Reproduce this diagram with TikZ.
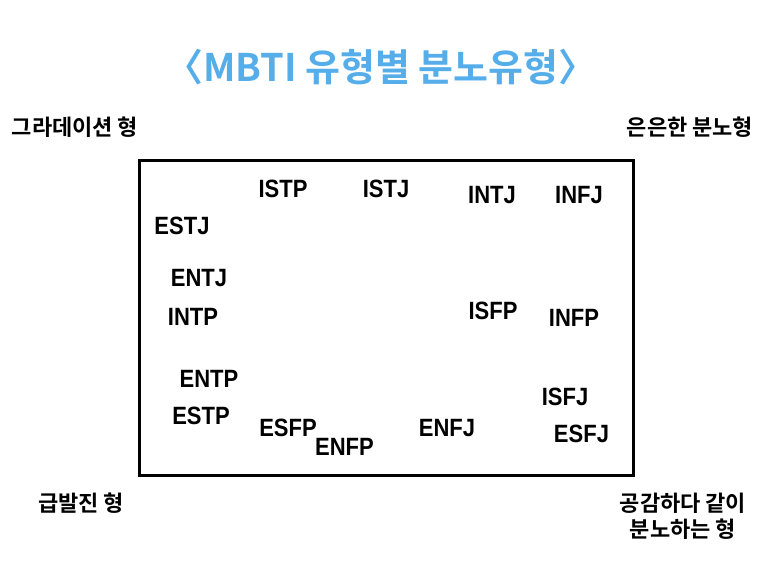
\documentclass[tikz,border=0pt]{standalone}
\usepackage{fontspec}
\newfontfamily\krfont{Noto Sans CJK KR}[BoldFont={* Bold}]
\newfontfamily\mbfont{Liberation Sans}[FakeStretch=0.88]
\definecolor{titleblue}{HTML}{55AEEA}
\begin{document}
\begin{tikzpicture}[x=1pt,y=-1pt,
  mbti/.style={font=\mbfont\bfseries\fontsize{25}{25}\selectfont, inner sep=0pt, anchor=center},
  corner/.style={font=\krfont\bfseries\fontsize{22}{26}\selectfont, inner sep=0pt, anchor=center, align=center},
  frame/.style={draw=black, line width=3pt}]
\useasboundingbox (0,0) rectangle (773,580);
\node[font=\krfont\bfseries\fontsize{38}{38}\selectfont, text=titleblue, inner sep=0pt] (title) at (381,67) {〈MBTI 유형별 분노유형〉};
\node[corner] (grad) at (75,127) {그라데이션 형};
\node[corner] (eun) at (690,127) {은은한 분노형};
\node[corner] (geup) at (81,503) {급발진 형};
\node[corner] (gong) at (683,516) {공감하다 같이\\분노하는 형};
\draw[frame] (139.5,161) rectangle (633,475);
\node[mbti] (istp) at (283,189) {ISTP};
\node[mbti] (istj) at (386,189) {ISTJ};
\node[mbti] (intj) at (492,195) {INTJ};
\node[mbti] (infj) at (579,195) {INFJ};
\node[mbti] (estj) at (182,226) {ESTJ};
\node[mbti] (entj) at (199,278) {ENTJ};
\node[mbti] (intp) at (193,317) {INTP};
\node[mbti] (isfp) at (493,311) {ISFP};
\node[mbti] (infp) at (574,318) {INFP};
\node[mbti] (entp) at (209,379) {ENTP};
\node[mbti] (estp) at (201,416) {ESTP};
\node[mbti] (esfp) at (288,428) {ESFP};
\node[mbti] (enfp) at (344.5,447) {ENFP};
\node[mbti] (enfj) at (447,428) {ENFJ};
\node[mbti] (isfj) at (565,397) {ISFJ};
\node[mbti] (esfj) at (581.5,434) {ESFJ};
\end{tikzpicture}
\end{document}
